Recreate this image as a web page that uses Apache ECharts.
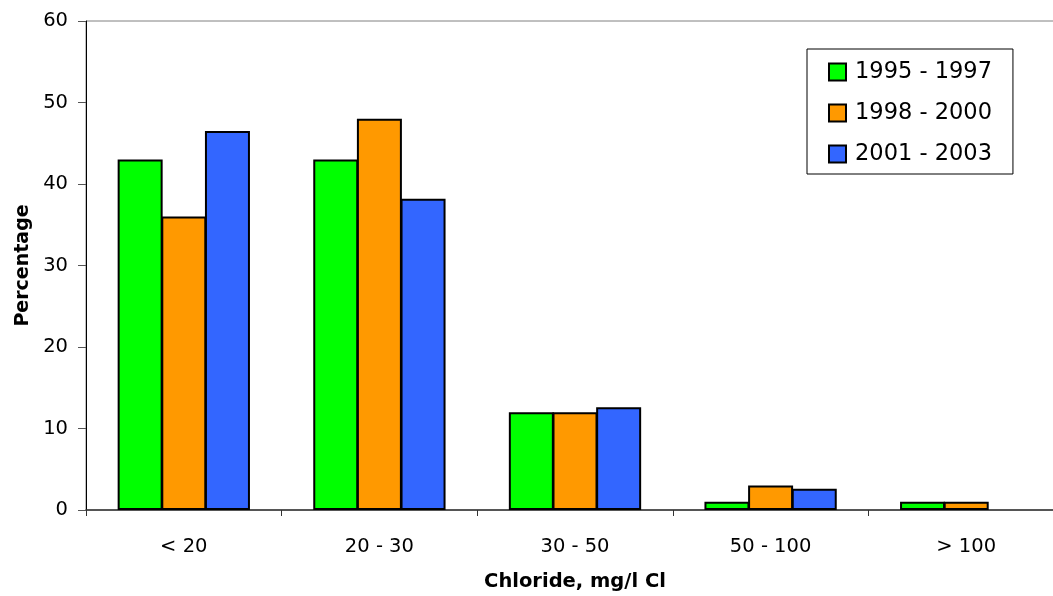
<!DOCTYPE html>
<html>
<head>
<meta charset="utf-8">
<script src="https://cdn.jsdelivr.net/npm/echarts@6/dist/echarts.min.js"></script>
<style>html,body{margin:0;padding:0;background:#fff}#c{width:1053px;height:596px}</style>
</head>
<body>
<div id="c"></div>
<script>
const categories = ['< 20', '20 - 30', '30 - 50', '50 - 100', '> 100'];
const seriesNames = ['1995 - 1997', '1998 - 2000', '2001 - 2003'];
const values1995 = [43, 43, 12, 1, 1];
const values1998 = [36, 48, 12, 3, 1];
const values2001 = [46.5, 38.2, 12.6, 2.6, null];
const yTicks = { min: 0, max: 60, interval: 10 };
const colors = ['#00FF00', '#FF9900', '#3366FF'];

const font = 'DejaVu Sans';
const chart = echarts.init(document.getElementById('c'), null, { renderer: 'canvas' });
const allValues = [values1995, values1998, values2001];
chart.setOption({
  animation: false,
  backgroundColor: '#fff',
  grid: { left: 86, top: 21, width: 978, height: 489, outerBoundsMode: 'none', containLabel: false, show: true, borderColor: '#808080', borderWidth: 1, backgroundColor: 'transparent' },
  legend: {
    orient: 'vertical',
    left: 807, top: 49,
    padding: [11, 21, 8, 21],
    itemGap: 17,
    itemWidth: 17, itemHeight: 17,
    borderColor: '#000', borderWidth: 1,
    backgroundColor: '#fff',
    icon: 'rect',
    itemStyle: { borderColor: '#000', borderWidth: 2 },
    textStyle: { fontFamily: font, fontSize: 22.5, color: '#000', lineHeight: 24, padding: [0, 0, 0, 4] },
    data: seriesNames
  },
  xAxis: {
    type: 'category',
    data: categories,
    name: 'Chloride, mg/l Cl',
    nameLocation: 'middle',
    nameGap: 62,
    nameTextStyle: { fontFamily: font, fontSize: 19.5, fontWeight: 'bold', color: '#000' },
    axisLine: { lineStyle: { color: '#333', width: 1.5 } },
    axisTick: { show: true, length: 6, lineStyle: { color: '#333' } },
    axisLabel: { fontFamily: font, fontSize: 19.5, color: '#000', margin: 27 },
    splitLine: { show: false }
  },
  yAxis: {
    type: 'value',
    min: yTicks.min, max: yTicks.max, interval: yTicks.interval,
    name: 'Percentage',
    nameLocation: 'middle',
    nameGap: 53,
    nameTextStyle: { fontFamily: font, fontSize: 19, fontWeight: 'bold', color: '#000' },
    axisLine: { show: true, lineStyle: { color: '#000', width: 1 } },
    axisTick: { show: true, length: 8, lineStyle: { color: '#555' } },
    axisLabel: { fontFamily: font, fontSize: 19.5, color: '#000', margin: 18 },
    splitLine: { show: false }
  },
  series: seriesNames.map((n, i) => ({
    name: n,
    type: 'bar',
    data: allValues[i],
    barGap: '-3%',
    barWidth: 45,
    itemStyle: { color: colors[i], borderColor: '#000', borderWidth: 2 }
  }))
});
</script>
</body>
</html>
